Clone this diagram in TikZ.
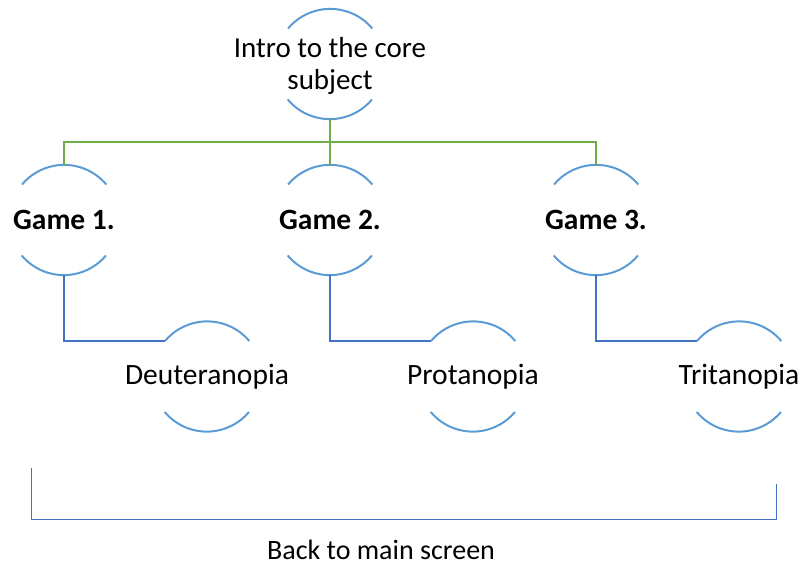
\documentclass[tikz,border=0pt]{standalone}
\usepackage{fontspec}
\setmainfont{Carlito}
\definecolor{arcblue}{HTML}{5B9BD5}
\definecolor{lngreen}{HTML}{70AD47}
\definecolor{lnblue}{HTML}{4472C4}
\begin{document}
\begin{tikzpicture}[x=1pt,y=-1pt,
  ring/.style={circle,minimum size=110pt,inner sep=0pt},
  arcline/.style={draw=arcblue,line width=2pt},
  txt/.style={font=\fontsize{29.5}{32}\selectfont,align=center,inner sep=0pt},
  bold/.style={txt,font=\fontsize{29.5}{32}\selectfont\bfseries},
  greenline/.style={draw=lngreen,line width=2pt},
  blueline/.style={draw=lnblue,line width=2pt},
  bracket/.style={draw=lnblue,line width=1pt}]
\useasboundingbox (0,0) rectangle (803,567);
% circles
\node[ring] (c0) at (330,64) {};
\node[ring] (g1) at (64,220) {};
\node[ring] (g2) at (330,220) {};
\node[ring] (g3) at (596,220) {};
\node[ring] (d1) at (207,376.5) {};
\node[ring] (d2) at (473,376.5) {};
\node[ring] (d3) at (739,376.5) {};
\foreach \n in {c0,g1,g2,g3,d1,d2,d3}{
  \draw[arcline] (\n.40) arc[start angle=40,end angle=140,radius=55pt];
  \draw[arcline] (\n.220) arc[start angle=220,end angle=320,radius=55pt];
}
% texts
\node[txt,font=\fontsize{29}{32}\selectfont] (t0) at (330,66) {Intro to the core\\subject};
\node[bold] (tg1) at (g1) {Game 1.};
\node[bold] (tg2) at (g2) {Game 2.};
\node[bold] (tg3) at (g3) {Game 3.};
\node[txt] (td1) at (d1) {Deuteranopia};
\node[txt] (td2) at (d2) {Protanopia};
\node[txt] (td3) at (d3) {Tritanopia};
% green connectors
\coordinate (bus) at (330,142);
\draw[greenline] (c0.south) -- (bus);
\draw[greenline] (g1.north) |- (bus) -| (g3.north);
\draw[greenline] (bus) -- (g2.north);
% blue connectors
\draw[blueline] (g1.south) |- (d1.140);
\draw[blueline] (g2.south) |- (d2.140);
\draw[blueline] (g3.south) |- (d3.140);
% bracket
\coordinate (bl) at (31,468);
\coordinate (blb) at (31,519);
\coordinate (brb) at (776,519);
\coordinate (br) at (776,484);
\draw[bracket] (bl) -- (blb) -- (brb) -- (br);
\node[txt,font=\fontsize{28}{32}\selectfont] (back) at (381,550) {Back to main screen};
\end{tikzpicture}
\end{document}
